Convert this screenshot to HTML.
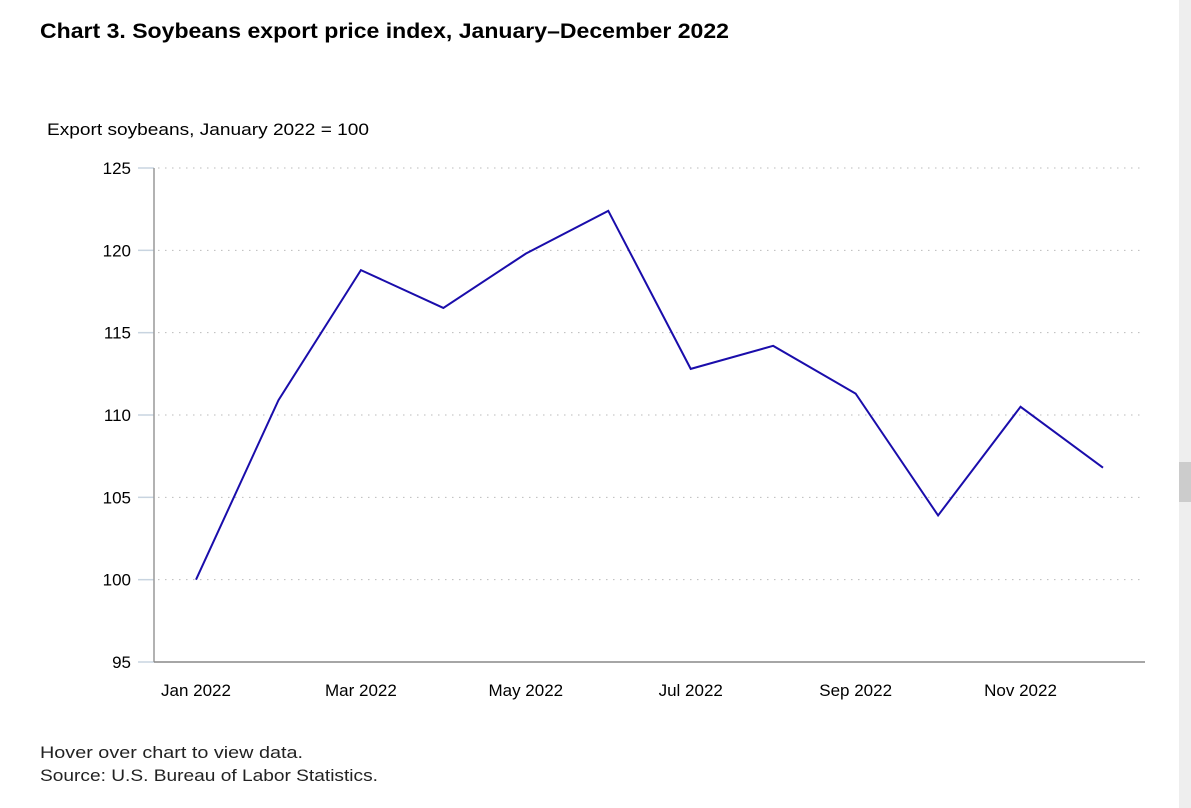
<!DOCTYPE html>
<html><head><meta charset="utf-8"><style>
body{margin:0;width:1191px;height:808px;background:#fff;font-family:"Liberation Sans",sans-serif;overflow:hidden;position:relative}
</style></head><body>
<svg width="1191" height="808" style="position:absolute;left:0;top:0">
<text x="40" y="38" font-size="21" font-weight="bold" fill="#000" font-family="Liberation Sans" textLength="689" lengthAdjust="spacingAndGlyphs">Chart 3. Soybeans export price index, January–December 2022</text>
<text x="47" y="135" font-size="17" fill="#000" font-family="Liberation Sans" textLength="322" lengthAdjust="spacingAndGlyphs">Export soybeans, January 2022 = 100</text>
<g id="grid"></g><g id="axes"></g><g id="line"></g>
<text x="40" y="758" font-size="17" fill="#222" font-family="Liberation Sans" textLength="263" lengthAdjust="spacingAndGlyphs">Hover over chart to view data.</text>
<text x="40" y="781" font-size="17" fill="#222" font-family="Liberation Sans" textLength="338" lengthAdjust="spacingAndGlyphs">Source: U.S. Bureau of Labor Statistics.</text>
</svg>
<div style="position:absolute;left:1179px;top:0;width:12px;height:808px;background:#eee"></div>
<div style="position:absolute;left:1179px;top:462px;width:12px;height:40px;background:#ccc"></div>
<script>
const months=["Jan 2022","Feb 2022","Mar 2022","Apr 2022","May 2022","Jun 2022","Jul 2022","Aug 2022","Sep 2022","Oct 2022","Nov 2022","Dec 2022"];
const values=[100,110.9,118.8,116.5,119.8,122.4,112.8,114.2,111.3,103.9,110.5,106.8];
const yTicks=[95,100,105,110,115,120,125];
const ns="http://www.w3.org/2000/svg";
const x=i=>196+i*(1103-196)/11;
const y=v=>662-(v-95)*(662-168)/30;
function mk(t,a,p){const e=document.createElementNS(ns,t);for(const k in a)e.setAttribute(k,a[k]);p.appendChild(e);return e;}
const grid=document.getElementById('grid'),axes=document.getElementById('axes'),line=document.getElementById('line');
yTicks.forEach(v=>{
  if(v>95){const g=mk('line',{x1:158,x2:1140,y1:y(v),y2:y(v),stroke:'#bbb','stroke-dasharray':'1.5,5.5'},grid);
  
  }
  const tk=mk('line',{x1:138,x2:154,y1:y(v),y2:y(v),stroke:'#c8d4e0','stroke-width':1.5},axes);
  
  
  const t=mk('text',{x:131,y:y(v)+6,'text-anchor':'end','font-size':17,fill:'#000','font-family':'Liberation Sans'},axes);
  t.textContent=v;
  
  
});
const ya=mk('line',{x1:154,x2:154,y1:168,y2:662,stroke:'#999','stroke-width':1.5},axes);


const xa=mk('line',{x1:154,x2:1145,y1:662,y2:662,stroke:'#888','stroke-width':1.5},axes);


months.forEach((m,i)=>{if(i%2)return;
  const t=mk('text',{x:x(i),y:696,'text-anchor':'middle','font-size':17,fill:'#000','font-family':'Liberation Sans'},axes);
  t.textContent=m;
  
  
});
const p=mk('polyline',{points:values.map((v,i)=>x(i)+','+y(v)).join(' '),fill:'none',stroke:'#1a0dab','stroke-width':2},line);


</script>
</body></html>
